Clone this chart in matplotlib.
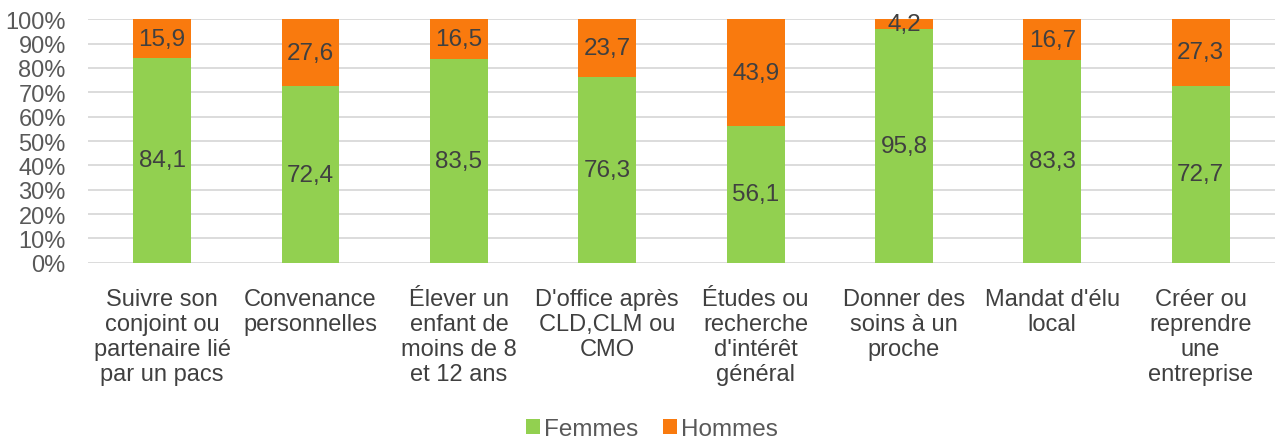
import numpy as np
import matplotlib
matplotlib.use("Agg")
from matplotlib import pyplot as plt

categories = ["Suivre son\nconjoint ou\npartenaire lié\npar un pacs",
              "Convenance\npersonnelles",
              "Élever un\nenfant de\nmoins de 8\net 12 ans",
              "D'office après\nCLD,CLM ou\nCMO",
              "Études ou\nrecherche\nd'intérêt\ngénéral",
              "Donner des\nsoins à un\nproche",
              "Mandat d'élu\nlocal",
              "Créer ou\nreprendre\nune\nentreprise"]
femmes = [84.1, 72.4, 83.5, 76.3, 56.1, 95.8, 83.3, 72.7]
hommes = [15.9, 27.6, 16.5, 23.7, 43.9, 4.2, 16.7, 27.3]

plt.rcParams['font.family'] = ['Liberation Sans', 'DejaVu Sans']

green = '#92D050'
orange = '#F97A0E'

fig = plt.figure(figsize=(12.83, 4.39), dpi=100)
ax = fig.add_axes([0.0686, 0.399, 0.925, 0.555])

ind = np.arange(len(categories))
width = 0.39
ax.bar(ind, femmes, width, color=green, label='Femmes', zorder=2)
ax.bar(ind, hommes, width, bottom=femmes, color=orange, label='Hommes', zorder=2)

for i in range(len(categories)):
    ax.text(ind[i], femmes[i] / 2, str(femmes[i]).replace('.', ','),
            ha='center', va='center', fontsize=17.5, color='#404040', zorder=3)
    ax.text(ind[i], femmes[i] + hommes[i] / 2, str(hommes[i]).replace('.', ','),
            ha='center', va='center', fontsize=17.5, color='#404040', zorder=3)

ax.set_xlim(-0.5, len(categories) - 0.5)
ax.set_ylim(0, 100)
ax.set_yticks(np.arange(0, 101, 10))
ax.set_yticklabels([f"{v}%" for v in range(0, 101, 10)])
ax.yaxis.grid(True, color='#D9D9D9', linewidth=1.3, zorder=0)
ax.set_axisbelow(True)
for s in ax.spines.values():
    s.set_visible(False)
ax.tick_params(axis='y', length=0, labelsize=17, labelcolor='#595959', pad=16)
ax.tick_params(axis='x', length=0, labelsize=17, labelcolor='#404040', pad=18)
ax.set_xticks(ind)
ax.set_xticklabels(categories, linespacing=1.18)

fig.legend(loc='lower center', bbox_to_anchor=(0.508, -0.055), ncol=2, frameon=False,
           fontsize=17.5, labelcolor='#595959', handlelength=0.6, handleheight=0.6,
           handletextpad=0.15, columnspacing=1.0)

fig.savefig('out.png', dpi=100)
